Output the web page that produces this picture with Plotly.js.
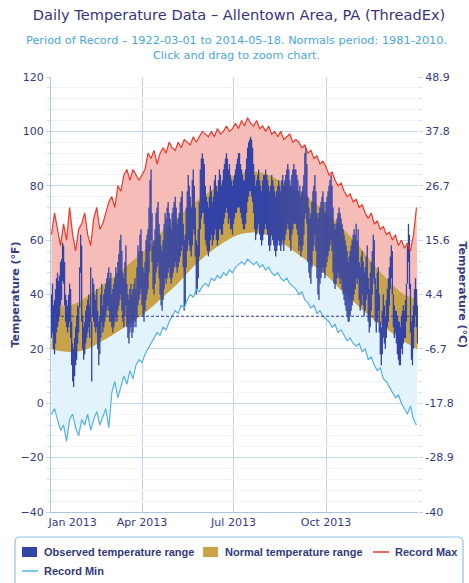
<!DOCTYPE html>
<html>
<head>
<meta charset="utf-8">
<script src="https://cdn.plot.ly/plotly-3.0.1.min.js"></script>
<style>html,body{margin:0;padding:0;background:#fff;}#chart{width:469px;height:583px;}</style>
</head>
<body>
<div id="chart"></div>
<script>
// ---------- DATA ----------
const YEAR = 2013;
const FREEZING_F = 32;

// Observed daily highs / lows (°F), Jan 1 .. Dec 31, 2013
const obsHigh = [
  40,44,36,38,42,46,48,45,47,52, 53,59,58,52,40,38,36,40,44,42, 30,22,20,24,28,32,36,35,50,62,58,
  32,28,30,34,36,38,40,36,50,30, 46,44,40,38,42,34,30,32,40,44, 36,40,42,44,46,48,50,46,
  48,40,42,44,46,50,48,52,55,60, 62,56,48,46,52,58,44,40,38,42, 44,40,42,44,46,42,50,58,56,62,64,
  56,50,48,52,60,62,64,72,82,86, 70,58,60,64,70,72,74,66,62,58, 56,60,66,70,68,72,74,70,68,64,
  70,72,74,76,72,66,68,70,74,76, 78,66,60,62,72,78,84,80,76,72, 82,86,80,72,60,58,64,74,86,90,92,
  90,88,80,76,74,72,76,80,78,74, 76,82,84,80,78,82,86,84,80,82, 86,88,90,92,90,86,88,84,82,80,
  82,84,86,88,90,92,92,88,86,84, 82,82,86,90,94,96,97,98,97,94, 88,84,80,82,84,86,82,80,78,82,84,
  84,86,84,82,80,78,80,84,82,80, 78,76,78,80,82,80,78,82,84,80, 82,84,86,88,86,82,80,84,86,88,86,
  86,84,82,78,80,76,78,80,84,92, 94,88,76,72,68,70,74,78,80,84, 78,70,68,70,72,74,76,78,74,70,
  74,76,78,80,82,84,80,72,66,64, 66,68,70,72,70,68,66,64,62,60, 58,56,52,54,56,58,60,62,64,62,66,
  60,64,52,50,54,56,52,48,50,54, 58,46,42,48,52,56,62,60,46,42, 48,50,40,30,28,34,40,36,32,38,
  42,46,50,54,58,56,40,36,34,34, 32,30,30,28,32,34,36,34,38,44, 58,66,62,44,30,32,36,42,46,42,36
];
const obsLow = [
  24,26,20,18,22,26,28,30,32,36, 38,45,44,36,30,28,26,28,30,24, 14,8,6,10,14,16,22,26,35,48,30,
  20,16,18,22,24,26,28,24,30,8, 32,30,28,26,28,20,14,18,24,30, 26,28,30,32,34,36,34,30,
  30,28,26,28,30,32,30,34,36,38, 40,34,30,28,32,36,28,24,22,26, 28,24,26,28,30,28,32,36,38,40,42,
  36,32,30,34,38,40,42,48,56,60, 52,42,40,44,48,50,52,46,40,36, 34,38,42,46,44,46,48,50,46,44,
  46,48,50,52,50,48,50,52,54,56, 58,50,34,36,50,56,60,58,56,54, 58,64,62,54,40,42,46,54,64,68,70,
  70,66,60,58,56,54,56,60,62,58, 60,62,64,60,58,60,64,64,62,62, 66,68,70,72,70,66,68,64,64,62,
  66,68,70,70,72,72,72,70,68,66, 64,64,66,70,74,76,78,78,76,74, 70,64,60,62,64,66,62,60,58,60,62,
  64,66,64,62,58,56,58,62,60,58, 56,54,56,58,60,58,56,58,60,56, 60,62,64,66,64,60,56,62,64,66,66,
  66,64,62,56,58,54,56,58,62,68, 70,66,52,48,46,44,50,56,58,62, 56,46,40,38,44,46,48,50,48,46,
  50,52,54,56,58,60,56,48,44,42, 44,46,48,46,44,46,42,40,38,36, 34,32,30,30,32,34,36,38,40,42,46,
  44,46,38,34,36,40,36,32,34,38, 40,30,26,28,34,40,46,44,30,26, 30,34,26,18,14,18,24,22,20,24,
  28,30,36,42,46,40,28,24,26,22, 18,16,14,14,20,18,22,24,24,30, 44,52,42,26,16,14,20,28,32,28,22
];

// Record max / min (°F), every 3rd day starting Jan 1
const RECORD_STEP_DAYS = 3;
const recordMax = [
  62,70,64,58,66,60,72,62,56,64,66,
  70,62,58,68,72,64,66,70,74,
  76,72,80,78,84,86,82,86,84,82,
  84,86,92,90,93,88,92,94,92,96,
  94,93,96,94,97,96,95,98,96,98,100,
  99,98,100,98,101,99,100,102,100,101,
  103,101,104,102,105,103,102,104,101,102,
  100,102,99,100,98,100,97,98,99,96,
  97,96,94,95,92,93,90,91,88,89,
  87,84,85,82,80,81,78,76,77,74,75,
  72,73,70,68,70,66,67,64,65,62,
  63,60,62,58,60,57,59,56,62,72
];
const recordMin = [
  -4,-2,-6,-10,-8,-14,-6,-4,-9,-12,-6,
  -8,-4,-10,-6,-3,-8,-5,-2,-9,
  4,8,2,6,10,7,12,9,14,16,
  15,18,20,22,24,26,25,28,27,30,
  32,34,33,36,35,38,40,39,42,41,43,
  44,43,46,45,47,46,48,47,49,48,
  50,51,52,51,53,52,51,52,50,51,
  49,50,48,47,48,46,45,46,44,43,
  42,40,41,38,37,35,36,33,34,32,
  31,30,28,29,26,27,25,23,24,22,21,
  22,19,20,16,17,14,12,13,9,8,
  6,4,2,3,0,-2,-4,-1,-6,-8
];

// Normal (1981-2010) high / low (°F) at given day-of-year
const normalDays = [0,20,35,50,64,80,95,110,125,140,155,170,185,200,215,230,245,260,274,290,305,320,335,350,364];
const normalHigh = [36,36,39,43,47,52,57,63,68,73,77,81,84,85,84,81,78,74,70,64,58,51,45,40,38];
const normalLow  = [20,19,20,23,26,30,34,39,44,50,55,59,62,63,62,59,55,51,47,41,36,31,27,23,20];

// Axis / legend labels
const xTickLabels = ['Jan 2013','Apr 2013','Jul 2013','Oct 2013'];
const xLabelDates = ['2013-01-22','2013-04-01','2013-07-01','2013-10-01'];
const xGridDates  = ['2013-01-01','2013-04-01','2013-07-01','2013-10-01'];
const yTicksF = [-40,-20,0,20,40,60,80,100,120];
const legendNames = ['Observed temperature range','Normal temperature range','Record Max','Record Min'];

// ---------- BUILD ----------
function dayToDate(d){ const t = new Date(Date.UTC(YEAR,0,1+d)); return t.toISOString().slice(0,10); }
const obsDates = obsHigh.map((_,i)=>dayToDate(i));
const recDates = recordMax.map((_,i)=>dayToDate(i*RECORD_STEP_DAYS));
const normDates = normalDays.map(dayToDate);

const segX = [], segY = [];
obsHigh.forEach((h,i)=>{ segX.push(obsDates[i],obsDates[i],null); segY.push(obsLow[i],h,null); });

function fToC(f){ const c = (f-32)*5/9; const s = c.toFixed(1); return s.endsWith('.0') ? s.slice(0,-2) : s; }

const navy = '#363a82';
const C = {obs:'#3443a6', normal:'#c8a347', pink:'#f6bcb7', lightblue:'#e2f3fb', red:'#e8392b', blue:'#56b0e6'};

const traces = [
  {x:normDates, y:normalHigh, mode:'lines', line:{width:0, shape:'spline'}, showlegend:false, hoverinfo:'skip'},
  {x:recDates, y:recordMax, mode:'lines', line:{width:0}, fill:'tonexty', fillcolor:C.pink, showlegend:false, hoverinfo:'skip'},
  {x:recDates, y:recordMin, mode:'lines', line:{width:0}, showlegend:false, hoverinfo:'skip'},
  {x:normDates, y:normalLow, mode:'lines', line:{width:0, shape:'spline'}, fill:'tonexty', fillcolor:C.lightblue, showlegend:false, hoverinfo:'skip'},
  {x:normDates, y:normalLow, mode:'lines', line:{width:0.8, color:'#c49a35', shape:'spline'}, showlegend:false, hoverinfo:'skip'},
  {x:normDates, y:normalHigh, mode:'lines', line:{width:0.8, color:'#c49a35', shape:'spline'}, fill:'tonexty', fillcolor:C.normal, showlegend:false, hoverinfo:'skip'},
  {x:segX, y:segY, mode:'lines', line:{width:1.3, color:C.obs}, showlegend:false, hoverinfo:'skip'},
  {x:recDates, y:recordMax, mode:'lines', line:{width:1.2, color:C.red}, name:legendNames[2], showlegend:false},
  {x:recDates, y:recordMin, mode:'lines', line:{width:1.2, color:C.blue}, name:legendNames[3], showlegend:false},
  {x:[null], y:[null], yaxis:'y2', mode:'lines', showlegend:false, hoverinfo:'skip'}
];

// pixel -> paper helpers for the hand-made legend box
const PL = 51, PW = 367, PB = 512, PH = 435;
const px = x => (x-PL)/PW, py = y => (PB-y)/PH;

function roundRect(x0,y0,x1,y1,r){
  const X=v=>px(v).toFixed(5), Y=v=>py(v).toFixed(5);
  return `M${X(x0+r)},${Y(y0)} L${X(x1-r)},${Y(y0)} Q${X(x1)},${Y(y0)} ${X(x1)},${Y(y0+r)} L${X(x1)},${Y(y1-r)} Q${X(x1)},${Y(y1)} ${X(x1-r)},${Y(y1)} L${X(x0+r)},${Y(y1)} Q${X(x0)},${Y(y1)} ${X(x0)},${Y(y1-r)} L${X(x0)},${Y(y0+r)} Q${X(x0)},${Y(y0)} ${X(x0+r)},${Y(y0)} Z`;
}

const legendItems = [
  {kind:'box', color:C.obs, sx:22, y:552, tx:42},
  {kind:'box', color:C.normal, sx:203, y:552, tx:223},
  {kind:'line', color:C.red, sx:373, y:552, tx:393},
  {kind:'line', color:C.blue, sx:22, y:571, tx:42}
];

const shapes = [
  {type:'line', xref:'paper', x0:0, x1:1, yref:'y', y0:FREEZING_F, y1:FREEZING_F, layer:'above',
   line:{color:'#2b3a94', width:1, dash:'3px,2px'}},
  {type:'path', xref:'paper', yref:'paper', path:roundRect(15,537,463,600,5), line:{color:'#8ec4ea', width:1.2}, fillcolor:'rgba(0,0,0,0)', layer:'above'}
];
const annotations = [
  {text:'Period of Record – 1922-03-01 to 2014-05-18. Normals period: 1981-2010.<br>Click and drag to zoom chart.',
   xref:'paper', x:px(236.5), xanchor:'center', yref:'paper', y:py(48), yanchor:'middle', showarrow:false,
   font:{size:11.3, color:'#4aa6dc'}},
  {text:'<b>Temperature (°F)</b>', textangle:-90, xref:'paper', x:px(15), xanchor:'center', yref:'paper', y:0.5, yanchor:'middle',
   showarrow:false, font:{size:11, color:navy}},
  {text:'<b>Temperature (°C)</b>', textangle:90, xref:'paper', x:px(462), xanchor:'center', yref:'paper', y:0.5, yanchor:'middle',
   showarrow:false, font:{size:11, color:navy}}
];
legendItems.forEach((it,i)=>{
  if(it.kind==='box'){
    shapes.push({type:'rect', xref:'paper', yref:'paper', x0:px(it.sx), x1:px(it.sx+15), y0:py(it.y-5), y1:py(it.y+5),
                 fillcolor:it.color, line:{width:0}, layer:'above'});
  } else {
    shapes.push({type:'line', xref:'paper', yref:'paper', x0:px(it.sx), x1:px(it.sx+16), y0:py(it.y), y1:py(it.y),
                 line:{color:it.color, width:1.5}, layer:'above'});
  }
  annotations.push({text:'<b>'+legendNames[i]+'</b>', xref:'paper', x:px(it.tx), xanchor:'left', yref:'paper', y:py(it.y),
                    yanchor:'middle', showarrow:false, font:{family:'Liberation Sans, Arial, sans-serif', size:11, color:'#333a7c'}});
});

const gridC = '#c6d7ea', lineC = '#a9c7e4';
const layout = {
  width:469, height:583,
  margin:{l:51, r:51, t:77, b:71},
  paper_bgcolor:'#ffffff', plot_bgcolor:'#ffffff',
  font:{family:'DejaVu Sans, Verdana, sans-serif', color:navy, size:11},
  showlegend:false,
  title:{text:'Daily Temperature Data – Allentown Area, PA (ThreadEx)', x:239/469, xanchor:'center', xref:'container',
         y:1-15/583, yref:'container', yanchor:'middle', font:{size:14.6, color:'#383478'}},
  xaxis:{type:'date', range:['2012-12-31 12:00','2013-12-31 12:00'], tickmode:'array', tickvals:xLabelDates, ticktext:xTickLabels,
         showgrid:false, ticks:'', zeroline:false, showline:true, linecolor:lineC, linewidth:1,
         tickfont:{size:11, color:navy},
         minor:{tickmode:'array', tickvals:xGridDates, showgrid:true, gridcolor:'#bcd3ea', gridwidth:1, ticks:''}},
  yaxis:{range:[-40,120], tickmode:'array', tickvals:yTicksF, showgrid:true, gridcolor:gridC, gridwidth:1,
         zeroline:false, showline:true, linecolor:lineC, ticks:'outside', ticklen:4, tickcolor:'#c8d6e6',
         tickfont:{size:11, color:navy},
         minor:{tick0:0, dtick:4, ticks:'outside', ticklen:3, tickcolor:'#d5dfeb', showgrid:true, gridcolor:'#f1f4f9'}},
  yaxis2:{overlaying:'y', side:'right', range:[-40,120], tickmode:'array', tickvals:yTicksF, ticktext:yTicksF.map(fToC),
          showgrid:false, zeroline:false, showline:false, ticks:'outside', ticklen:4, tickcolor:'#c8d6e6',
          tickfont:{size:11, color:navy},
          minor:{tick0:0, dtick:4, ticks:'outside', ticklen:3, tickcolor:'#d5dfeb'}},
  shapes:shapes,
  annotations:annotations
};

Plotly.newPlot('chart', traces, layout, {displayModeBar:false, staticPlot:true});
</script>
</body>
</html>
